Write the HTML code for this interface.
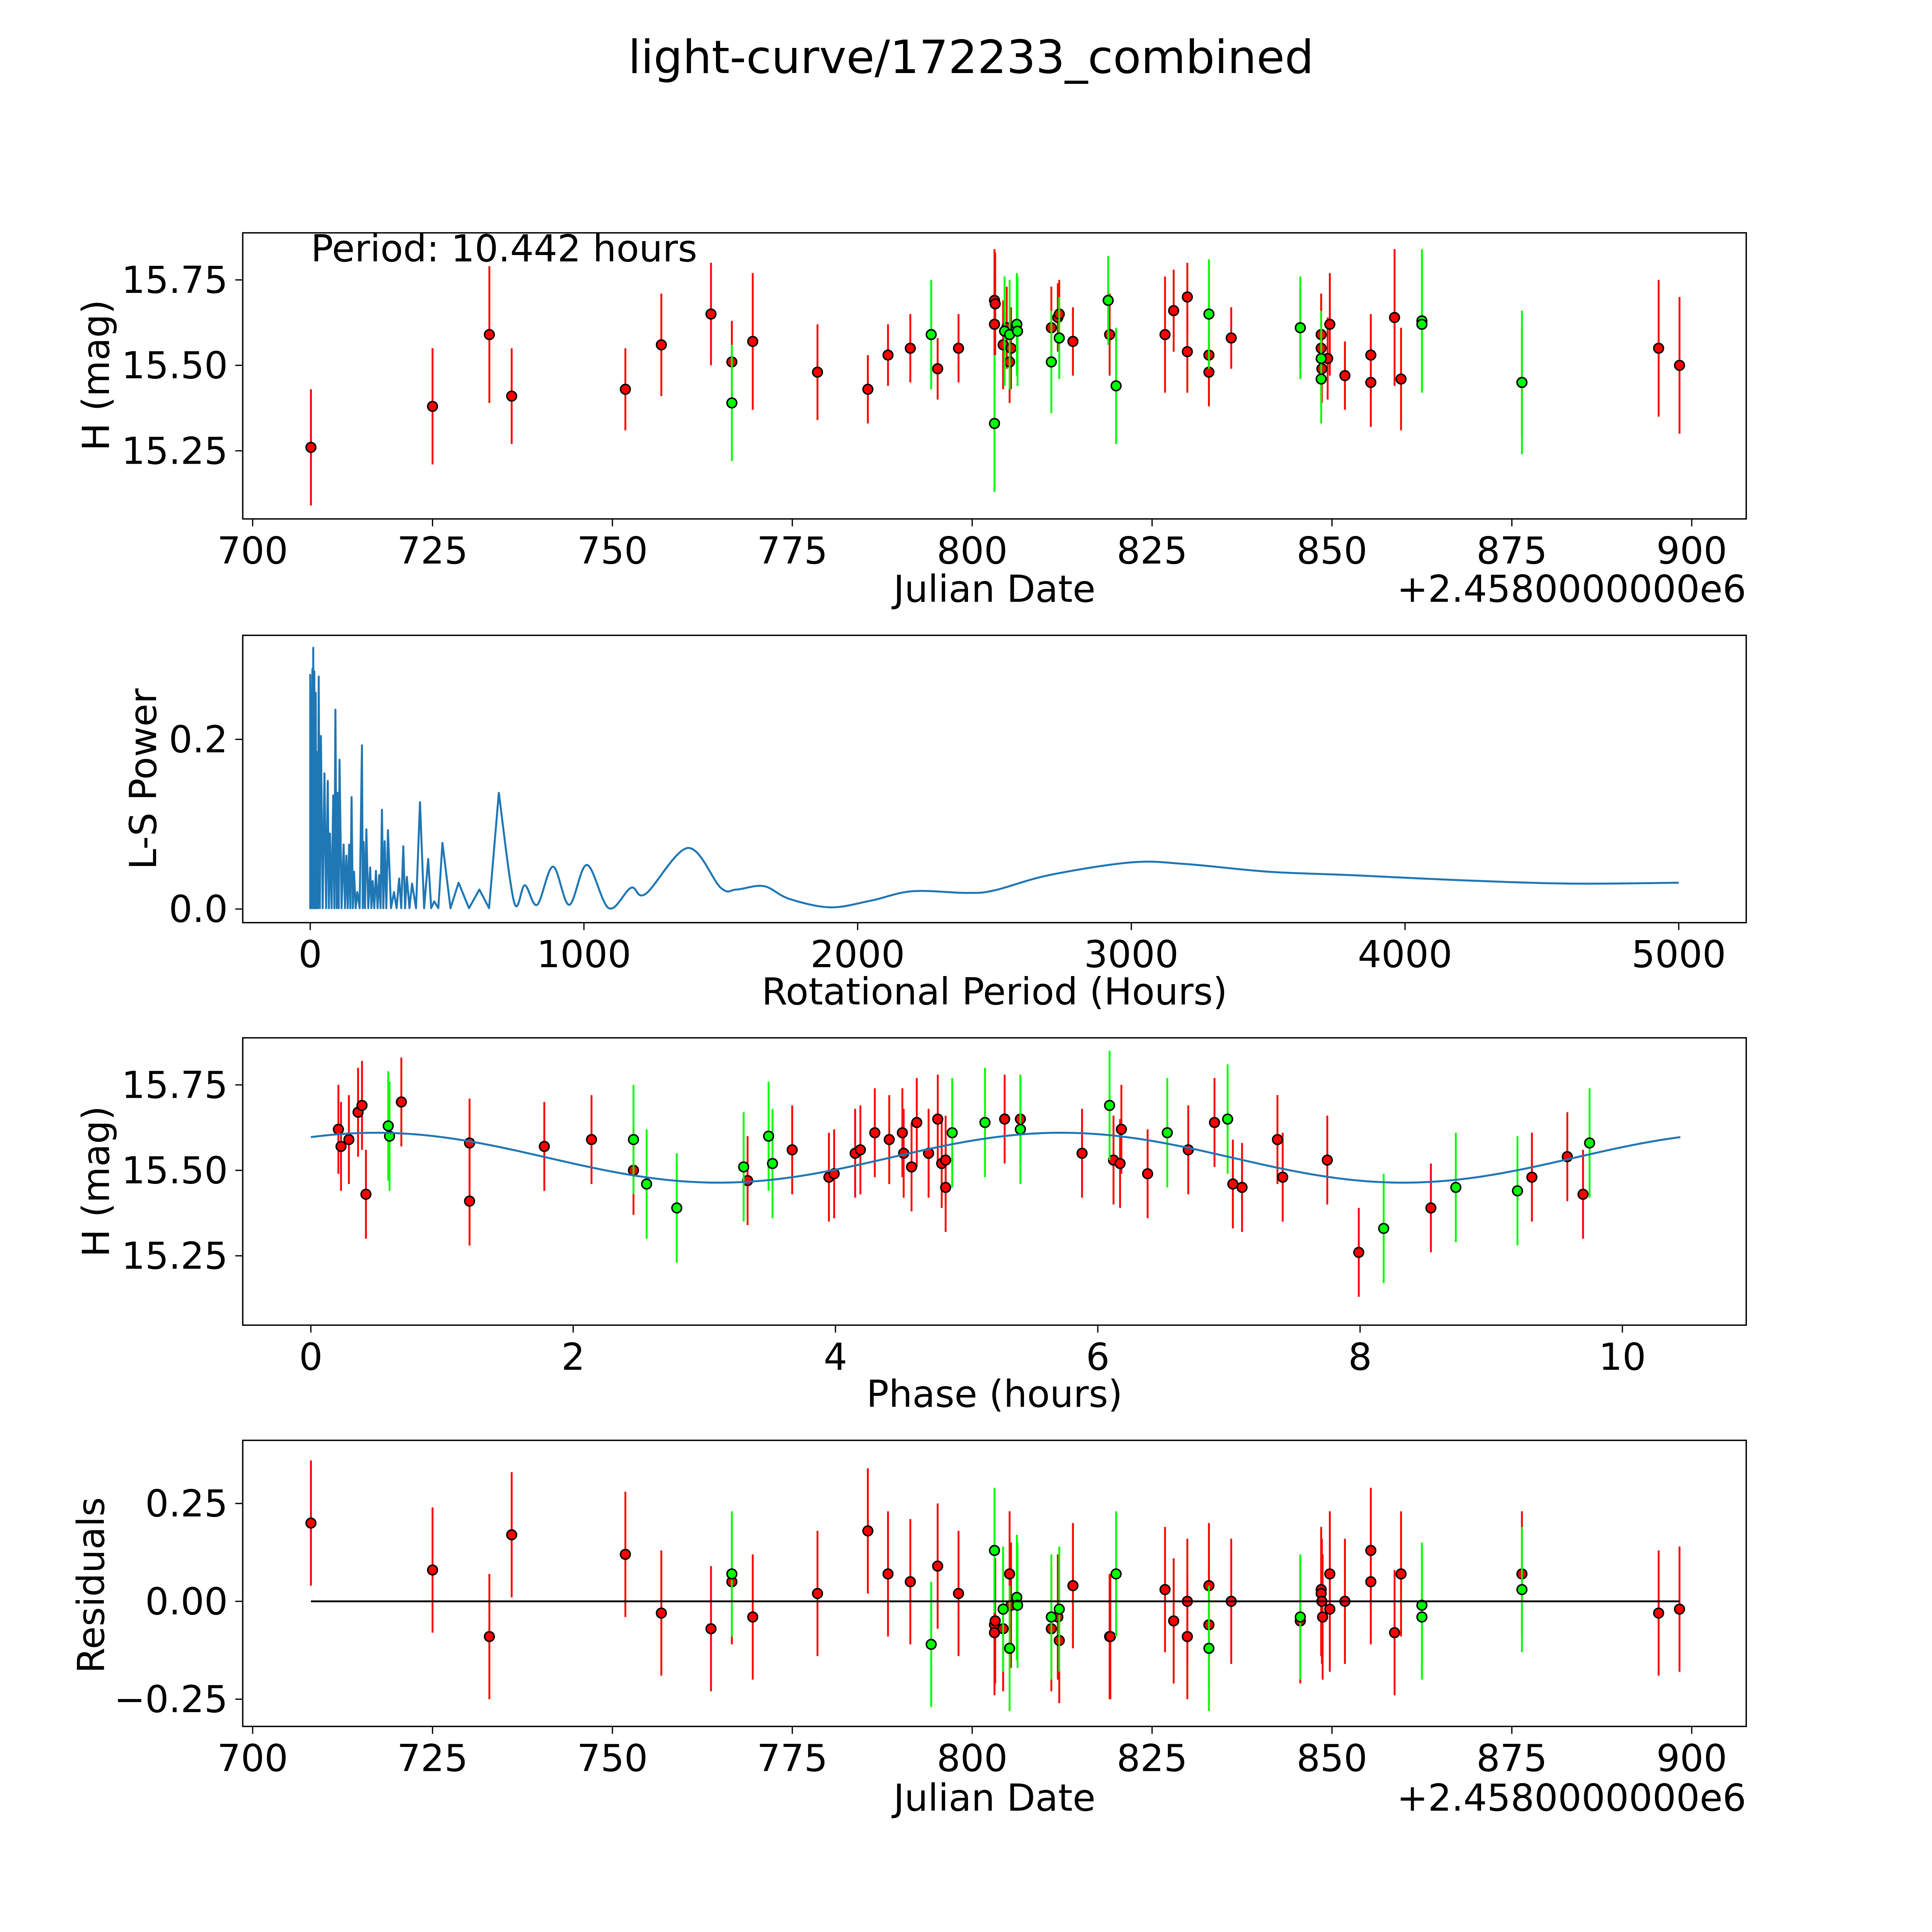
<!DOCTYPE html>
<html><head><meta charset="utf-8">
<style>
html,body{margin:0;padding:0;background:#fff;overflow:hidden;width:100%;height:100%;}
svg{display:block;width:100vw;height:100vh;}
text{font-family:"DejaVu Sans","Liberation Sans",sans-serif;fill:#000;}
</style></head>
<body>
<svg id="fig" xmlns="http://www.w3.org/2000/svg" viewBox="0 0 1560 1560" preserveAspectRatio="xMidYMid meet">
<rect x="0" y="0" width="1560" height="1560" fill="#fff"/>
<text x="784" y="59" font-size="37" text-anchor="middle">light-curve/172233_combined</text>
<text x="251" y="211" font-size="30">Period: 10.442 hours</text>
<g id="layer"></g>
</svg>
<script>
// ---------- Panel 1: light curve (date, mag, err) ----------
const redDates = [708.1,725,732.9,736,751.8,756.8,763.7,766.6,769.5,778.5,785.5,788.3,791.4,795.2,798.1,803.1,803.1,803.2,804.3,804.8,805.2,805.4,811.0,811.9,812.1,814.0,819.1,826.8,828.0,829.9,829.9,832.9,832.9,836.0,845.6,848.5,848.5,848.6,849.7,849.4,851.8,855.4,855.4,858.7,859.6,876.4,895.4,898.3];
const redMags  = [15.26,15.38,15.59,15.41,15.43,15.56,15.65,15.51,15.57,15.48,15.43,15.53,15.55,15.49,15.55,15.62,15.69,15.68,15.56,15.61,15.51,15.55,15.61,15.64,15.65,15.57,15.59,15.59,15.66,15.70,15.54,15.53,15.48,15.58,15.61,15.59,15.55,15.49,15.62,15.52,15.47,15.53,15.45,15.64,15.46,15.45,15.55,15.50];
const redErrs  = [0.17,0.17,0.2,0.14,0.12,0.15,0.15,0.12,0.2,0.14,0.1,0.09,0.1,0.09,0.1,0.15,0.15,0.15,0.13,0.12,0.12,0.12,0.12,0.1,0.1,0.1,0.12,0.17,0.12,0.1,0.12,0.1,0.1,0.09,0.12,0.12,0.14,0.1,0.15,0.12,0.1,0.12,0.13,0.2,0.15,0.16,0.2,0.2];
const greenDates = [766.6,794.3,803.1,804.5,805.2,806.2,806.3,811.0,812.1,818.9,820.0,832.9,845.6,848.5,848.5,862.5,862.5,876.4];
const greenMags  = [15.39,15.59,15.33,15.60,15.59,15.62,15.60,15.51,15.58,15.69,15.44,15.65,15.61,15.46,15.52,15.63,15.62,15.45];
const greenErrs  = [0.17,0.16,0.2,0.16,0.16,0.15,0.16,0.15,0.12,0.13,0.17,0.16,0.15,0.13,0.14,0.21,0.2,0.21];
// ---------- Panel 2: periodogram ----------
const spikePeriods = [0,8,11,15,20,24,31,39,52,64,72,84,92,101,107,122,132,142,151,160,172,189,195,205,219,228,240,252,262,272,284,306,325,340,353,372,401,431,453,483,542,618,689];
const spikePowers  = [0.276,0.283,0.308,0.28,0.255,0.185,0.274,0.204,0.16,0.151,0.089,0.134,0.235,0.137,0.176,0.076,0.063,0.076,0.132,0.044,0.02,0.193,0.079,0.094,0.049,0.033,0.045,0.04,0.117,0.08,0.093,0.02,0.036,0.074,0.038,0.03,0.126,0.059,0.009,0.078,0.031,0.023,0.137];
const tailPeriods = [745,784,829,887,946,1011,1091,1172,1226,1380,1500,1558,1657,1750,1900,2050,2200,2400,2500,2700,3000,3200,3500,3800,4200,4600,5000];
const tailPowers  = [0.008,0.028,0.005,0.05,0.005,0.052,0.001,0.025,0.018,0.072,0.025,0.023,0.027,0.012,0.002,0.01,0.021,0.019,0.022,0.04,0.055,0.053,0.044,0.04,0.034,0.03,0.031];
// ---------- Panel 3: phased ----------
const redPhase = [0.21,0.23,0.29,0.36,0.39,0.42,0.69,1.21,1.21,1.78,2.14,2.46,3.33,3.67,3.95,3.99,4.15,4.19,4.30,4.41,4.51,4.52,4.58,4.62,4.71,4.78,4.81,4.84,4.84,5.29,5.41,5.88,6.12,6.18,6.17,6.38,6.69,6.89,7.03,7.10,7.37,7.41,7.75,7.99,8.54,9.31,9.58,9.70];
const redPhaseMag = [15.62,15.57,15.59,15.67,15.69,15.43,15.70,15.58,15.41,15.57,15.59,15.50,15.47,15.56,15.48,15.49,15.55,15.56,15.61,15.59,15.61,15.55,15.51,15.64,15.55,15.65,15.52,15.53,15.45,15.65,15.65,15.55,15.53,15.62,15.52,15.49,15.56,15.64,15.46,15.45,15.59,15.48,15.53,15.26,15.39,15.48,15.54,15.43];
const greenPhase = [0.59,0.60,2.46,2.56,2.79,3.30,3.49,3.52,4.89,5.14,5.41,6.09,6.53,6.99,8.18,8.73,9.20,9.75];
const greenPhaseMag = [15.63,15.60,15.59,15.46,15.39,15.51,15.60,15.52,15.61,15.64,15.62,15.69,15.61,15.65,15.33,15.45,15.44,15.58];
const fitMean = 15.537, fitAmp = 0.073, fitPeriod = 10.442, fitPhase0 = 0.5;
// ---------- Panel 4: residuals ----------
const redResDates = [708.1,725,732.9,736,751.8,756.8,763.7,766.6,769.5,778.5,785.5,788.3,791.4,795.2,798.1,803.1,803.1,803.2,804.3,805.2,805.4,811.0,811.9,812.1,814.0,819.1,819.2,826.8,828.0,829.9,829.9,832.9,832.9,836.0,845.6,848.5,848.5,848.6,848.7,849.7,849.7,851.8,855.4,855.4,858.7,859.6,876.4,895.4,898.3];
const redResVals  = [0.20,0.08,-0.09,0.17,0.12,-0.03,-0.07,0.05,-0.04,0.02,0.18,0.07,0.05,0.09,0.02,-0.06,-0.08,-0.05,-0.07,0.07,-0.01,-0.07,-0.04,-0.10,0.04,-0.09,-0.09,0.03,-0.05,-0.09,0.0,0.04,-0.06,0.0,-0.05,0.03,0.02,0.0,-0.04,0.07,-0.02,0.0,0.13,0.05,-0.08,0.07,0.07,-0.03,-0.02];
const greenResDates = [766.6,794.3,803.1,804.3,805.2,806.2,806.3,811.0,812.1,820.0,832.9,845.6,862.5,862.5,876.4];
const greenResVals  = [0.07,-0.11,0.13,-0.02,-0.12,0.01,-0.01,-0.04,-0.02,0.07,-0.12,-0.04,-0.01,-0.04,0.03];
const resErr = 0.16;
// Tick arrays
const dateTicks = [700,725,750,775,800,825,850,875,900];
const magTicks = [15.25,15.5,15.75];
const magTickLabels = ["15.25","15.50","15.75"];
const powerTicks = [0.0,0.2];
const powerTickLabels = ["0.0","0.2"];
const periodTicks = [0,1000,2000,3000,4000,5000];
const phaseTicks = [0,2,4,6,8,10];
const resTicks = [-0.25,0,0.25];
const resTickLabels = ["\u22120.25","0.00","0.25"];

const NS = "http://www.w3.org/2000/svg";
const layer = document.getElementById('layer');
function mk(tag, attrs, parent){
  const e = document.createElementNS(NS, tag);
  for (const k in attrs) e.setAttribute(k, attrs[k]);
  (parent||layer).appendChild(e);
  return e;
}
const L = 196, R = 1410;
const FS = 30;
function lin(d0,d1,p0,p1){return v => p0 + (v-d0)*(p1-p0)/(d1-d0);}

function frame(name){
  const g = mk('g', {});
  
  
  return g;
}
function spines(g, top, bot){
  const r = mk('rect', {x:L, y:top, width:R-L, height:bot-top, fill:'none', stroke:'#000', 'stroke-width':1.1}, g);
  
  
}
function xTicks(g, bot, ticks, sx){
  ticks.forEach((t)=>{
    const x = sx(t);
    mk('line', {x1:x, x2:x, y1:bot, y2:bot+6, stroke:'#000', 'stroke-width':1}, g);
    const tx = mk('text', {x:x, y:bot+36, 'font-size':FS, 'text-anchor':'middle'}, g);
    tx.textContent = String(t);
    
    
  });
}
function yTicks(g, ticks, sy, labels){
  ticks.forEach((t,i)=>{
    const y = sy(t);
    mk('line', {x1:L-6, x2:L, y1:y, y2:y, stroke:'#000', 'stroke-width':1}, g);
    const tx = mk('text', {x:L-12, y:y+10.5, 'font-size':FS, 'text-anchor':'end'}, g);
    tx.textContent = labels[i];
    
    
  });
}
function label(g, txt, x, y, rot, name){
  const t = mk('text', {x:x, y:y, 'font-size':FS, 'text-anchor':'middle'}, g);
  if (rot) t.setAttribute('transform', 'rotate(-90 '+x+' '+y+')');
  t.textContent = txt;
  
  
}
function points(g, xs, ys, errs, color, sx, sy, name){
  xs.forEach((xv,i)=>{
    const x = sx(xv);
    const e = Array.isArray(errs) ? errs[i] : errs;
    const ln = mk('line', {x1:x, x2:x, y1:sy(ys[i]+e), y2:sy(ys[i]-e), stroke:color, 'stroke-width':1.5}, g);
    
    
  });
  xs.forEach((xv,i)=>{
    const c = mk('circle', {cx:sx(xv), cy:sy(ys[i]), r:3.9, fill:color, stroke:'#000', 'stroke-width':1.2}, g);
    
    
  });
}
function offsetText(g, y){
  const t = mk('text', {x:R, y:y, 'font-size':FS, 'text-anchor':'end'}, g);
  t.textContent = '+2.4580000000e6';
  
  
}

// Panel 1
{
  const top=188, bot=419;
  const g = frame('light-curve-panel');
  const sx = lin(700,900,204,1366), sy = lin(15.5,15.75,295,226);
  points(g, redDates, redMags, redErrs, '#ff0000', sx, sy, 'red-observation');
  points(g, greenDates, greenMags, greenErrs, '#00ff00', sx, sy, 'green-observation');
  spines(g, top, bot);
  xTicks(g, bot, dateTicks, sx);
  yTicks(g, magTicks, sy, magTickLabels);
  label(g, 'Julian Date', 803, 486, false, 'x-axis-title');
  label(g, 'H (mag)', 88, 303, true, 'y-axis-title');
  offsetText(g, 486);
}
// Panel 2
{
  const top=513, bot=745;
  const g = frame('periodogram-panel');
  const sx = lin(0,5000,250.5,1355.5), sy = lin(0,0.2,734,597);
  let d = 'M' + sx(spikePeriods[0]).toFixed(2) + ' ' + sy(0).toFixed(2) + ' ';
  spikePeriods.forEach((p,i)=>{
    d += 'L' + sx(p).toFixed(2) + ' ' + sy(spikePowers[i]).toFixed(2) + ' ';
    if (i < spikePeriods.length-1) d += 'L' + sx((p+spikePeriods[i+1])/2).toFixed(2) + ' ' + sy(0.001).toFixed(2) + ' ';
  });
  const tp = [spikePeriods[spikePeriods.length-1]].concat(tailPeriods);
  const tv = [spikePowers[spikePowers.length-1]].concat(tailPowers);
  const P = tp.map((p,i)=>[sx(p), sy(tv[i])]);
  for (let i=0;i<P.length-1;i++){
    const p0 = P[Math.max(0,i-1)], p1 = P[i], p2 = P[i+1], p3 = P[Math.min(P.length-1,i+2)];
    const c1 = [p1[0]+(p2[0]-p0[0])/6, p1[1]+(p2[1]-p0[1])/6];
    const c2 = [p2[0]-(p3[0]-p1[0])/6, p2[1]-(p3[1]-p1[1])/6];
    d += 'C'+c1[0].toFixed(2)+' '+c1[1].toFixed(2)+' '+c2[0].toFixed(2)+' '+c2[1].toFixed(2)+' '+p2[0].toFixed(2)+' '+p2[1].toFixed(2)+' ';
  }
  const path = mk('path', {d:d, fill:'none', stroke:'#1f77b4', 'stroke-width':1.6, 'stroke-linejoin':'round'}, g);
  
  
  spines(g, top, bot);
  xTicks(g, bot, periodTicks, sx);
  yTicks(g, powerTicks, sy, powerTickLabels);
  label(g, 'Rotational Period (Hours)', 803, 811, false, 'x-axis-title');
  label(g, 'L-S Power', 126, 629, true, 'y-axis-title');
}
// Panel 3
{
  const top=838, bot=1070;
  const g = frame('phase-panel');
  const sx = lin(0,10,251,1310), sy = lin(15.5,15.75,945,876);
  points(g, redPhase, redPhaseMag, 0.13, '#ff0000', sx, sy, 'red-phased');
  points(g, greenPhase, greenPhaseMag, 0.16, '#00ff00', sx, sy, 'green-phased');
  let d='';
  for (let i=0;i<=200;i++){
    const t = fitPeriod*i/200;
    const m = fitMean + fitAmp*Math.cos(2*Math.PI*2*(t-fitPhase0)/fitPeriod);
    d += (i?'L':'M') + sx(t).toFixed(2)+' '+sy(m).toFixed(2)+' ';
  }
  const fit = mk('path', {d:d, fill:'none', stroke:'#1f77b4', 'stroke-width':1.6}, g);
  
  
  spines(g, top, bot);
  xTicks(g, bot, phaseTicks, sx);
  yTicks(g, magTicks, sy, magTickLabels);
  label(g, 'Phase (hours)', 803, 1136, false, 'x-axis-title');
  label(g, 'H (mag)', 88, 954, true, 'y-axis-title');
}
// Panel 4
{
  const top=1163, bot=1394;
  const g = frame('residuals-panel');
  const sx = lin(700,900,204,1366), sy = lin(0,0.25,1293,1214);
  points(g, redResDates, redResVals, resErr, '#ff0000', sx, sy, 'red-residual');
  points(g, greenResDates, greenResVals, resErr, '#00ff00', sx, sy, 'green-residual');
  const zl = mk('line', {x1:sx(708.1), x2:sx(898.3), y1:sy(0), y2:sy(0), stroke:'#000', 'stroke-width':1.5}, g);
  
  
  spines(g, top, bot);
  xTicks(g, bot, dateTicks, sx);
  yTicks(g, resTicks, sy, resTickLabels);
  label(g, 'Julian Date', 803, 1462, false, 'x-axis-title');
  label(g, 'Residuals', 84, 1280, true, 'y-axis-title');
  offsetText(g, 1462);
}
</script>
</body></html>
